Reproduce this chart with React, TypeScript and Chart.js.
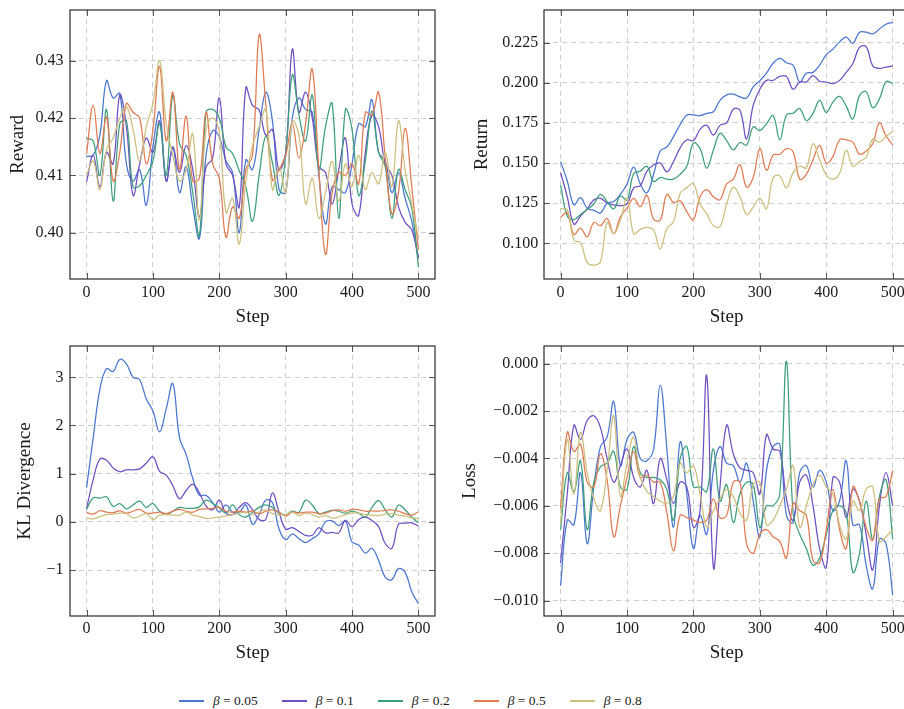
import React, { useEffect, useRef } from "react";
import { Chart, registerables } from "chart.js";
Chart.register(...registerables);

const FONT = "'Liberation Serif', 'Times New Roman', serif";
const TEXT = "#1a1a1a";
const GRID = "#cfcfcf";

const steps = [0, 10, 20, 30, 40, 50, 60, 70, 80, 90, 100, 110, 120, 130, 140, 150, 160, 170, 180, 190, 200, 210, 220, 230, 240, 250, 260, 270, 280, 290, 300, 310, 320, 330, 340, 350, 360, 370, 380, 390, 400, 410, 420, 430, 440, 450, 460, 470, 480, 490, 500];
const stepTicks = [0, 100, 200, 300, 400, 500];
const stepTickLabels = ["0", "100", "200", "300", "400", "500"];

const betaValues = ["0.05", "0.1", "0.2", "0.5", "0.8"];
const seriesColors = ["#4a76d0", "#6f4fc2", "#3d9f7c", "#e07a52", "#cdbf7e"];

// ---------- Reward ----------
const rewardTicks = [0.4, 0.41, 0.42, 0.43];
const rewardTickLabels = ["0.40", "0.41", "0.42", "0.43"];
const rewardB005 = [0.4133, 0.4135, 0.417, 0.4265, 0.4235, 0.4243, 0.412, 0.409, 0.411, 0.4048, 0.415, 0.421, 0.409, 0.415, 0.407, 0.4115, 0.4045, 0.399, 0.4135, 0.4178, 0.4167, 0.4125, 0.4105, 0.4, 0.4127, 0.411, 0.418, 0.4245, 0.4195, 0.4075, 0.407, 0.42, 0.4235, 0.4215, 0.421, 0.41, 0.4015, 0.408, 0.4075, 0.407, 0.412, 0.419, 0.4185, 0.4232, 0.414, 0.4125, 0.407, 0.4105, 0.406, 0.402, 0.3955];
const rewardB01 = [0.4089, 0.4135, 0.408, 0.414, 0.412, 0.424, 0.4185, 0.4065, 0.412, 0.4165, 0.414, 0.4195, 0.409, 0.4148, 0.4105, 0.4152, 0.411, 0.4028, 0.4115, 0.413, 0.4235, 0.412, 0.41, 0.4045, 0.4253, 0.4222, 0.4214, 0.417, 0.418, 0.411, 0.414, 0.432, 0.421, 0.4245, 0.42, 0.4115, 0.4105, 0.405, 0.411, 0.4165, 0.405, 0.403, 0.414, 0.4205, 0.4185, 0.412, 0.41, 0.4045, 0.4018, 0.4005, 0.3955];
const rewardB02 = [0.4165, 0.416, 0.41, 0.4215, 0.4055, 0.419, 0.4195, 0.408, 0.4082, 0.41, 0.4125, 0.419, 0.41, 0.424, 0.4155, 0.4135, 0.407, 0.3995, 0.421, 0.4215, 0.42, 0.415, 0.4138, 0.4108, 0.408, 0.402, 0.41, 0.4168, 0.4122, 0.4065, 0.4135, 0.4275, 0.4205, 0.416, 0.424, 0.411, 0.4185, 0.4225, 0.4025, 0.4215, 0.418, 0.4065, 0.4125, 0.4212, 0.414, 0.4115, 0.4025, 0.411, 0.4075, 0.4043, 0.394];
const rewardB05 = [0.4138, 0.4222, 0.4138, 0.4202, 0.409, 0.414, 0.4225, 0.421, 0.42, 0.412, 0.418, 0.429, 0.416, 0.4245, 0.411, 0.4203, 0.409, 0.4095, 0.421, 0.412, 0.4095, 0.3992, 0.4045, 0.4025, 0.411, 0.4135, 0.4345, 0.4225, 0.4092, 0.411, 0.4135, 0.419, 0.413, 0.419, 0.4285, 0.411, 0.3962, 0.407, 0.4105, 0.41, 0.412, 0.4085, 0.421, 0.4205, 0.4245, 0.413, 0.4033, 0.407, 0.4182, 0.408, 0.397];
const rewardB08 = [0.4101, 0.4125, 0.4075, 0.4145, 0.4165, 0.42, 0.422, 0.418, 0.4125, 0.4185, 0.4225, 0.43, 0.419, 0.4135, 0.409, 0.411, 0.4172, 0.4022, 0.418, 0.42, 0.4175, 0.4035, 0.406, 0.398, 0.409, 0.4152, 0.4185, 0.4215, 0.4075, 0.4115, 0.407, 0.4195, 0.417, 0.405, 0.4095, 0.4025, 0.407, 0.4124, 0.4055, 0.412, 0.408, 0.4135, 0.4075, 0.4105, 0.4085, 0.414, 0.408, 0.4195, 0.411, 0.405, 0.399];

// ---------- Return ----------
const returnTicks = [0.1, 0.125, 0.15, 0.175, 0.2, 0.225];
const returnTickLabels = ["0.100", "0.125", "0.150", "0.175", "0.200", "0.225"];
const returnB005 = [0.1509, 0.139, 0.124, 0.1285, 0.1218, 0.1205, 0.119, 0.125, 0.126, 0.1305, 0.137, 0.1475, 0.137, 0.1315, 0.143, 0.1575, 0.16, 0.1665, 0.174, 0.18, 0.18, 0.1795, 0.181, 0.182, 0.189, 0.1925, 0.193, 0.1912, 0.1905, 0.1975, 0.2013, 0.206, 0.2122, 0.2152, 0.2125, 0.211, 0.2005, 0.206, 0.2065, 0.211, 0.2175, 0.221, 0.2255, 0.2285, 0.2246, 0.2315, 0.2315, 0.2305, 0.2335, 0.2365, 0.2377];
const returnB01 = [0.144, 0.129, 0.112, 0.117, 0.1215, 0.127, 0.128, 0.125, 0.124, 0.1235, 0.1245, 0.1345, 0.136, 0.145, 0.1488, 0.15, 0.1445, 0.151, 0.1595, 0.1645, 0.164, 0.171, 0.1735, 0.1675, 0.1735, 0.175, 0.1835, 0.183, 0.165, 0.186, 0.196, 0.2015, 0.2015, 0.204, 0.204, 0.196, 0.2005, 0.2005, 0.2045, 0.201, 0.2005, 0.1995, 0.2015, 0.2065, 0.212, 0.222, 0.2225, 0.2105, 0.209, 0.2098, 0.2105];
const returnB02 = [0.1361, 0.117, 0.1148, 0.118, 0.121, 0.1245, 0.1305, 0.126, 0.1215, 0.1295, 0.127, 0.1435, 0.145, 0.148, 0.1385, 0.141, 0.14, 0.14, 0.143, 0.148, 0.1625, 0.159, 0.1468, 0.158, 0.1685, 0.164, 0.1582, 0.1628, 0.1612, 0.1725, 0.1703, 0.1745, 0.1795, 0.1645, 0.18, 0.181, 0.184, 0.1765, 0.181, 0.189, 0.1815, 0.188, 0.1915, 0.1855, 0.1775, 0.192, 0.1945, 0.1845, 0.19, 0.2007, 0.1997];
const returnB05 = [0.1162, 0.119, 0.1055, 0.1095, 0.104, 0.113, 0.111, 0.1155, 0.106, 0.1165, 0.122, 0.128, 0.1228, 0.13, 0.115, 0.1145, 0.1305, 0.1255, 0.1265, 0.1197, 0.1148, 0.129, 0.1335, 0.129, 0.1272, 0.137, 0.14, 0.149, 0.135, 0.141, 0.159, 0.1455, 0.155, 0.1555, 0.159, 0.157, 0.14, 0.143, 0.152, 0.161, 0.15, 0.154, 0.1645, 0.1645, 0.163, 0.1555, 0.1575, 0.162, 0.175, 0.167, 0.1612];
const returnB08 = [0.1215, 0.121, 0.102, 0.1005, 0.088, 0.0865, 0.0885, 0.113, 0.106, 0.1145, 0.128, 0.106, 0.1087, 0.11, 0.1083, 0.0965, 0.1093, 0.1135, 0.131, 0.1347, 0.137, 0.1245, 0.1185, 0.111, 0.1105, 0.1245, 0.135, 0.129, 0.118, 0.1225, 0.128, 0.1215, 0.141, 0.142, 0.1345, 0.144, 0.148, 0.147, 0.162, 0.152, 0.1426, 0.14, 0.1435, 0.158, 0.148, 0.151, 0.1535, 0.165, 0.163, 0.1665, 0.1698];

// ---------- KL Divergence ----------
const klTicks = [-1, 0, 1, 2, 3];
const klTickLabels = ["\u22121", "0", "1", "2", "3"];
const klB005 = [0.71, 1.75, 2.75, 3.18, 3.12, 3.37, 3.28, 3.0, 2.95, 2.55, 2.3, 1.87, 2.35, 2.87, 1.75, 1.4, 0.9, 0.55, 0.55, 0.4, 0.2, 0.35, 0.2, 0.2, 0.35, -0.05, 0.15, 0.45, 0.4, -0.15, -0.37, -0.25, -0.35, -0.43, -0.35, -0.25, 0.0, 0.02, -0.08, 0.02, -0.42, -0.48, -0.65, -0.55, -0.8, -1.15, -1.2, -0.97, -1.05, -1.45, -1.7];
const klB01 = [0.27, 0.88, 1.3, 1.28, 1.12, 1.04, 1.08, 1.08, 1.1, 1.22, 1.35, 1.05, 0.97, 0.75, 0.48, 0.65, 0.78, 0.6, 0.33, 0.25, 0.45, 0.18, 0.15, 0.3, 0.4, 0.25, 0.05, 0.05, 0.6, 0.2, -0.15, -0.12, -0.2, -0.28, -0.28, -0.12, -0.23, -0.22, -0.23, 0.03, -0.1, 0.05, 0.1, 0.03, -0.1, -0.45, -0.55, -0.05, -0.03, -0.02, -0.09];
const klB02 = [0.26, 0.5, 0.49, 0.52, 0.32, 0.38, 0.27, 0.35, 0.43, 0.3, 0.38, 0.22, 0.15, 0.22, 0.3, 0.28, 0.28, 0.31, 0.45, 0.38, 0.3, 0.18, 0.35, 0.15, 0.1, 0.2, 0.3, 0.35, 0.3, 0.18, 0.15, 0.22, 0.2, 0.45, 0.35, 0.17, 0.2, 0.24, 0.22, 0.18, 0.22, 0.18, 0.1, 0.3, 0.44, 0.25, 0.1, 0.35, 0.25, 0.1, -0.02];
const klB05 = [0.19, 0.16, 0.23, 0.2, 0.19, 0.23, 0.18, 0.22, 0.26, 0.18, 0.18, 0.2, 0.17, 0.22, 0.26, 0.22, 0.2, 0.26, 0.27, 0.28, 0.3, 0.22, 0.2, 0.22, 0.2, 0.22, 0.17, 0.22, 0.25, 0.2, 0.12, 0.2, 0.18, 0.2, 0.2, 0.17, 0.18, 0.23, 0.25, 0.22, 0.26, 0.25, 0.22, 0.23, 0.22, 0.24, 0.25, 0.22, 0.17, 0.14, 0.21];
const klB08 = [0.08, 0.06, 0.11, 0.15, 0.16, 0.18, 0.17, 0.08, 0.12, 0.17, 0.05, 0.14, 0.15, 0.14, 0.14, 0.2, 0.14, 0.11, 0.07, 0.08, 0.1, 0.12, 0.15, 0.18, 0.2, 0.15, 0.2, 0.25, 0.17, 0.15, 0.15, 0.2, 0.13, 0.18, 0.15, 0.1, 0.13, 0.08, 0.1, 0.15, 0.18, 0.18, 0.15, 0.14, 0.13, 0.16, 0.17, 0.14, 0.12, 0.08, 0.07];

// ---------- Loss ----------
const lossTicks = [-0.01, -0.008, -0.006, -0.004, -0.002, 0];
const lossTickLabels = ["\u22120.010", "\u22120.008", "\u22120.006", "\u22120.004", "\u22120.002", "0.000"];
const lossB005 = [-0.00937, -0.0066, -0.0068, -0.0046, -0.0076, -0.0052, -0.0035, -0.0031, -0.0016, -0.0043, -0.0032, -0.0029, -0.004, -0.0041, -0.0036, -0.0009, -0.0036, -0.0069, -0.0033, -0.0055, -0.0078, -0.0064, -0.0072, -0.0045, -0.0035, -0.0042, -0.0043, -0.005, -0.0042, -0.0058, -0.0073, -0.0045, -0.0035, -0.0034, -0.0064, -0.0067, -0.0046, -0.0043, -0.0052, -0.0045, -0.005, -0.0062, -0.0058, -0.0041, -0.0068, -0.0068, -0.0085, -0.0095, -0.0074, -0.0076, -0.00977];
const lossB01 = [-0.0084, -0.0055, -0.0026, -0.0032, -0.0024, -0.0022, -0.0027, -0.004, -0.005, -0.0043, -0.0036, -0.0048, -0.0052, -0.0045, -0.0059, -0.004, -0.0049, -0.0059, -0.005, -0.0052, -0.0069, -0.0062, -0.0005, -0.0086, -0.0052, -0.0026, -0.0038, -0.0044, -0.0045, -0.0046, -0.0055, -0.003, -0.0036, -0.0037, -0.0057, -0.0066, -0.005, -0.0047, -0.006, -0.0078, -0.0086, -0.0048, -0.005, -0.0065, -0.0053, -0.0058, -0.0072, -0.0087, -0.006, -0.0046, -0.006];
const lossB02 = [-0.007, -0.0046, -0.0054, -0.0041, -0.007, -0.005, -0.00435, -0.0042, -0.0037, -0.0052, -0.0053, -0.0035, -0.0046, -0.0048, -0.0048, -0.0049, -0.0053, -0.0066, -0.004, -0.0035, -0.0052, -0.0052, -0.0054, -0.0036, -0.0058, -0.0051, -0.0067, -0.0055, -0.005, -0.0051, -0.0069, -0.006, -0.006, -0.0055, 0.0001, -0.0063, -0.0072, -0.0078, -0.0085, -0.0082, -0.0072, -0.0062, -0.006, -0.0063, -0.0088, -0.008, -0.0058, -0.0074, -0.0056, -0.0049, -0.0074];
const lossB05 = [-0.0061, -0.0029, -0.0037, -0.0034, -0.005, -0.0052, -0.0038, -0.0049, -0.0073, -0.006, -0.0048, -0.0037, -0.0048, -0.0047, -0.005, -0.005, -0.0063, -0.0079, -0.0064, -0.0065, -0.0066, -0.0067, -0.0066, -0.0057, -0.0065, -0.0064, -0.005, -0.005, -0.0076, -0.008, -0.0072, -0.007, -0.0073, -0.0075, -0.0082, -0.0059, -0.0062, -0.0064, -0.0083, -0.0084, -0.007, -0.0053, -0.007, -0.0078, -0.0052, -0.0058, -0.0069, -0.00745, -0.0057, -0.0056, -0.0045];
const lossB08 = [-0.00675, -0.0032, -0.0055, -0.0029, -0.0046, -0.0057, -0.0062, -0.0045, -0.0022, -0.0056, -0.0042, -0.0031, -0.0048, -0.0054, -0.0056, -0.0058, -0.0059, -0.0056, -0.0042, -0.0046, -0.0043, -0.0055, -0.0069, -0.0062, -0.0057, -0.0053, -0.0056, -0.0063, -0.0066, -0.0051, -0.005, -0.0068, -0.0066, -0.006, -0.0053, -0.0043, -0.0069, -0.006, -0.0051, -0.0047, -0.0052, -0.0055, -0.0068, -0.0074, -0.0058, -0.0062, -0.0053, -0.0052, -0.0075, -0.0073, -0.007];

type Spec = {
  left: number; top: number; width: number; height: number;
  padRight: number; yWidth: number; xHeight: number;
  xTickPad: number; xTitlePad: number; yTickPad: number; yTitlePad: number;
  yTitle: string; yMin: number; yMax: number;
  yTicks: number[]; yTickLabels: string[]; series: number[][];
};

const specs: Spec[] = [
  { left: 0, top: 0, width: 450, height: 330, padRight: 15, yWidth: 70, xHeight: 51, xTickPad: 4.4, xTitlePad: 1.9, yTickPad: 6.5, yTitlePad: 6.6,
    yTitle: "Reward", yMin: 0.39192, yMax: 0.43884, yTicks: rewardTicks, yTickLabels: rewardTickLabels,
    series: [rewardB005, rewardB01, rewardB02, rewardB05, rewardB08] },
  { left: 450, top: 0, width: 470, height: 330, padRight: 10.7, yWidth: 94, xHeight: 51, xTickPad: 4.4, xTitlePad: 1.9, yTickPad: 5.8, yTitlePad: 20.9,
    yTitle: "Return", yMin: 0.07778, yMax: 0.24535, yTicks: returnTicks, yTickLabels: returnTickLabels,
    series: [returnB005, returnB01, returnB02, returnB05, returnB08] },
  { left: 0, top: 336, width: 450, height: 334, padRight: 15, yWidth: 70, xHeight: 54, xTickPad: 2.7, xTitlePad: 5.3, yTickPad: 6.5, yTitlePad: 13.6,
    yTitle: "KL Divergence", yMin: -1.955, yMax: 3.6505, yTicks: klTicks, yTickLabels: klTickLabels,
    series: [klB005, klB01, klB02, klB05, klB08] },
  { left: 450, top: 336, width: 470, height: 334, padRight: 10.7, yWidth: 94, xHeight: 54, xTickPad: 2.7, xTitlePad: 5.3, yTickPad: 5.8, yTitlePad: 8.3,
    yTitle: "Loss", yMin: -0.010647, yMax: 0.000746, yTicks: lossTicks, yTickLabels: lossTickLabels,
    series: [lossB005, lossB01, lossB02, lossB05, lossB08] },
];

function Panel({ spec }: { spec: Spec }) {
  const ref = useRef<HTMLCanvasElement | null>(null);
  useEffect(() => {
    const canvas = ref.current;
    if (!canvas) return;
    const frame = {
      id: "frame",
      afterDatasetsDraw(chart: any) {
        const { ctx, chartArea, scales } = chart;
        const { left, right, top, bottom } = chartArea;
        ctx.save();
        ctx.lineWidth = 1;
        ctx.strokeStyle = "#555";
        ctx.beginPath();
        for (const t of scales.x.ticks) {
          const px = Math.round(scales.x.getPixelForValue(t.value)) + 0.5;
          ctx.moveTo(px, bottom); ctx.lineTo(px, bottom - 6);
          ctx.moveTo(px, top); ctx.lineTo(px, top + 6);
        }
        for (const t of scales.y.ticks) {
          const py = Math.round(scales.y.getPixelForValue(t.value)) + 0.5;
          ctx.moveTo(left, py); ctx.lineTo(left + 6, py);
          ctx.moveTo(right, py); ctx.lineTo(right - 6, py);
        }
        ctx.stroke();
        ctx.strokeStyle = "#2a2a2a";
        ctx.lineWidth = 1.2;
        ctx.strokeRect(left, top, right - left, bottom - top);
        ctx.restore();
      },
    };
    const chart = new Chart(canvas, {
      type: "line",
      data: {
        datasets: spec.series.map((vals, i) => ({
          label: "\u03b2 = " + betaValues[i],
          data: steps.map((s, j) => ({ x: s, y: vals[j] })),
          borderColor: seriesColors[i],
          backgroundColor: seriesColors[i],
          borderWidth: 1.25,
          pointRadius: 0,
          tension: 0.4,
          fill: false,
          order: spec.series.length - i,
        })),
      },
      options: {
        animation: false,
        responsive: false,
        maintainAspectRatio: false,
        devicePixelRatio: 1,
        events: [],
        layout: { padding: { left: 0, top: 10, right: spec.padRight, bottom: 0 } },
        plugins: { legend: { display: false }, tooltip: { enabled: false } },
        scales: {
          x: {
            type: "linear",
            min: -25,
            max: 525,
            afterBuildTicks: (s: any) => { s.ticks = stepTicks.map((v) => ({ value: v })); },
            afterFit: (s: any) => { s.height = spec.xHeight; s.paddingLeft = 0; s.paddingRight = 0; },
            grid: { color: GRID, lineWidth: 1, drawTicks: false },
            border: { display: false, dash: [5, 4] },
            ticks: {
              padding: spec.xTickPad, autoSkip: false, maxRotation: 0, minRotation: 0,
              color: TEXT, font: { family: FONT, size: 16 },
              callback: (_v: any, i: number) => stepTickLabels[i],
            },
            title: { display: true, text: "Step", color: TEXT, font: { family: FONT, size: 19 }, padding: { top: 0, bottom: spec.xTitlePad } },
          },
          y: {
            type: "linear",
            min: spec.yMin,
            max: spec.yMax,
            afterBuildTicks: (s: any) => { s.ticks = spec.yTicks.map((v) => ({ value: v })); },
            afterFit: (s: any) => { s.width = spec.yWidth; s.paddingTop = 0; s.paddingBottom = 0; },
            grid: { color: GRID, lineWidth: 1, drawTicks: false },
            border: { display: false, dash: [5, 4] },
            ticks: {
              padding: spec.yTickPad, autoSkip: false,
              color: TEXT, font: { family: FONT, size: 16 },
              callback: (_v: any, i: number) => spec.yTickLabels[i],
            },
            title: { display: true, text: spec.yTitle, color: TEXT, font: { family: FONT, size: 19 }, padding: { top: spec.yTitlePad, bottom: 0 } },
          },
        },
      },
      plugins: [frame],
    } as any);
    return () => chart.destroy();
  }, [spec]);
  return (
    <canvas
      ref={ref}
      width={spec.width}
      height={spec.height}
      style={{ position: "absolute", left: spec.left, top: spec.top, width: spec.width, height: spec.height }}
    />
  );
}

function Legend() {
  return (
    <div
      style={{
        position: "absolute", left: 179, top: 691, height: 20, display: "flex", alignItems: "center",
        fontFamily: FONT, fontSize: 13.5, color: TEXT, whiteSpace: "nowrap",
      }}
    >
      {betaValues.map((b, i) => (
        <div key={b} style={{ display: "flex", alignItems: "center", marginRight: 24 }}>
          <span style={{ display: "inline-block", width: 25, height: 2, background: seriesColors[i], marginRight: 9 }} />
          <span><i>{"\u03b2"}</i>{" = " + b}</span>
        </div>
      ))}
    </div>
  );
}

export default function App() {
  return (
    <div style={{ position: "fixed", left: 0, top: 0, width: 904, height: 709, overflow: "hidden", background: "#fff" }}>
      {specs.map((s, i) => (
        <Panel key={i} spec={s} />
      ))}
      <Legend />
    </div>
  );
}
